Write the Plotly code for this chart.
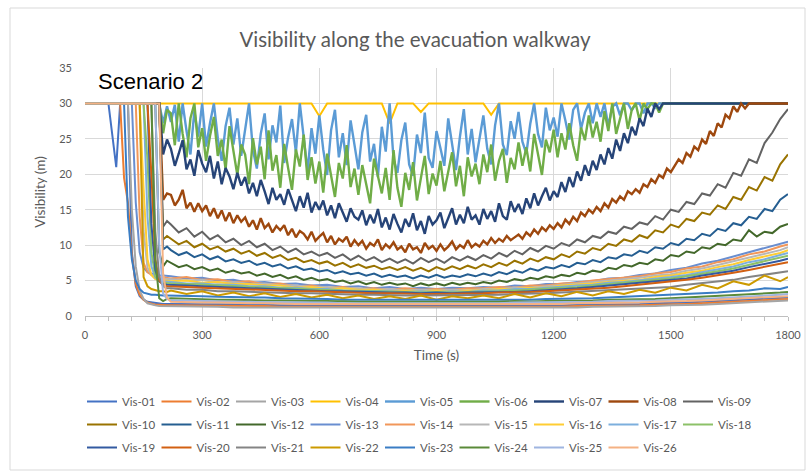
import plotly.graph_objects as go

# ---------------- data ----------------
TIME_HEAD = [0, 60, 80, 90, 100, 110, 120, 130, 140, 150, 160, 170, 180, 190, 200, 210]
TIME_DENSE = TIME_HEAD + [220 + 10 * i for i in range(159)]         # 220..1800 every 10 s
TIME_UPPER = TIME_HEAD + [220 + 20 * i for i in range(80)]          # 220..1800 every 20 s
TIME_LOWER = TIME_HEAD + [220 + 40 * i for i in range(40)] + [1800]  # 220..1780 every 40 s + 1800

SERIES_NAMES = ["Vis-%02d" % i for i in range(1, 27)]
SERIES_COLORS = ["#4472C4", "#ED7D31", "#A5A5A5", "#FFC000", "#5B9BD5", "#70AD47",
                 "#264478", "#9E480E", "#636363", "#997300", "#255E91", "#43682B",
                 "#698ED0", "#F1975A", "#B7B7B7", "#FFCD33", "#7CAFDD", "#8CC168",
                 "#335AA1", "#D26012", "#848484", "#CC9A00", "#3A7DC4", "#5A8A39",
                 "#9FB5E0", "#F4B183"]

HEAD_30 = [30, 30, 30, 30, 30, 30, 30, 30, 30, 30, 30, 30, 30, 30]

# dense-sampled sensors (TIME_DENSE)
VIS_05 = HEAD_30 + [27.2, 29.6,
          27.4, 29.8, 24.6, 30, 26.1, 22.8, 28.9, 25.3, 30,
          23.9, 27.2, 30, 25.1, 21.9, 26.8, 29.4, 24.2, 27.9, 22.6,
          26.3, 30, 23.4, 20.8, 25.7, 28.6, 22.1, 26.9, 24.5, 29.7,
          21.6, 25.2, 27.8, 23.1, 30, 24.7, 20.4, 26.5, 22.9, 28.3,
          23.5, 19.9, 26.2, 29.1, 22.4, 25.8, 21.3, 27.6, 24.1, 20.7,
          25.9, 28.4, 21.8, 24.3, 19.6, 26.7, 23.2, 30, 22.1, 20.2,
          24.8, 27.3, 21.4, 19.8, 25.6, 23.0, 28.7, 22.3, 20.9, 26.1,
          23.7, 21.2, 27.9, 24.4, 20.6, 25.3, 29.2, 22.8, 26.4, 21.7,
          25.1, 28.3, 23.6, 21.4, 26.9, 30, 24.2, 22.7, 27.5, 25.0,
          28.8, 24.6, 22.9, 27.1, 30, 25.7, 23.8, 29.4, 26.2, 28.0,
          25.3, 30, 27.6, 24.9, 29.1, 30, 26.4, 28.7, 30, 27.2,
          30, 28.1, 30, 26.8, 29.5, 30, 28.3, 30, 30, 29.0,
          30, 30, 28.6, 30, 30, 29.4, 30, 30, 30, 30,
          30, 30, 30, 30, 30, 30, 30, 30, 30, 30,
          30, 30, 30, 30, 30, 30, 30, 30, 30, 30,
          30, 30, 30, 30, 30, 30, 30, 30, 30, 30]
VIS_06 = HEAD_30 + [25.8, 29.1,
          28.6, 24.1, 30, 25.7, 22.4, 27.9, 30, 23.8, 26.5,
          21.9, 25.4, 28.1, 22.6, 24.9, 20.7, 26.8, 23.3, 19.9, 24.2,
          22.8, 18.6, 25.1, 21.4, 23.9, 19.3, 26.2, 20.5, 22.7, 18.1,
          24.3, 20.9, 17.8, 23.5, 21.1, 25.6, 19.2, 22.4, 18.7, 21.8,
          17.4, 22.9, 20.1, 16.8, 21.6, 19.4, 24.1, 18.2, 20.8, 17.1,
          21.3, 18.7, 15.9, 22.2, 19.6, 17.3, 20.9, 16.4, 23.4, 18.1,
          15.4, 20.2, 17.8, 21.7, 16.3, 19.5, 22.6, 17.2, 20.1, 18.4,
          21.9, 17.6, 20.4, 23.1, 18.3, 21.2, 16.9, 22.4, 19.7, 21.5,
          18.6, 22.8, 20.3, 24.2, 19.1, 21.9, 23.6, 18.8, 22.3, 20.7,
          24.5, 21.2, 23.8, 20.4, 25.7, 22.6, 19.9, 24.9, 23.1, 26.3,
          22.4, 25.8, 23.5, 27.2, 24.1, 21.9, 26.6, 24.8, 28.3, 25.2,
          27.4, 24.6, 28.9, 26.1, 30, 25.7, 27.8, 30, 26.4, 29.1,
          30, 27.6, 30, 29.2, 30, 30, 28.7, 30, 30, 30,
          30, 30, 30, 30, 30, 30, 30, 30, 30, 30,
          30, 30, 30, 30, 30, 30, 30, 30, 30, 30,
          30, 30, 30, 30, 30, 30, 30, 30, 30, 30]
VIS_07 = HEAD_30 + [22.8, 24.9,
          23.6, 21.2, 22.9, 24.8, 20.7, 22.1, 19.8, 23.4, 21.5,
          20.3, 22.6, 19.4, 21.8, 18.6, 20.9, 19.7, 17.9, 20.2, 18.4,
          19.6, 17.3, 18.8, 16.9, 19.2, 17.6, 15.8, 18.1, 16.4, 17.2,
          15.7, 17.9, 16.2, 14.8, 16.9, 15.3, 17.4, 14.6, 16.1, 15.0,
          16.3, 14.2, 15.6, 13.8, 15.9, 14.5, 13.3, 15.2, 14.0, 13.6,
          14.9, 12.8, 14.3, 13.1, 15.1, 12.5, 13.9, 12.2, 14.4, 13.0,
          11.8, 13.7, 12.6, 14.5, 12.1, 13.4, 11.6, 14.1, 12.9, 13.5,
          14.6, 12.4, 13.8, 15.2, 12.9, 14.3, 13.1, 15.4, 13.6, 14.2,
          12.9, 15.1, 13.7, 14.8, 13.3, 15.9, 14.1, 13.6, 16.2, 14.7,
          15.8, 14.4, 16.6, 15.2, 17.3, 15.6, 16.9, 18.1, 16.3, 17.6,
          16.8, 18.9, 17.5, 19.6, 18.2, 20.4, 19.1, 21.3, 19.8, 21.9,
          20.6, 22.8, 21.4, 23.7, 22.2, 24.9, 23.3, 25.8, 24.4, 26.7,
          25.5, 27.9, 26.8, 29.3, 28.1, 30, 29.2, 30, 30, 30,
          30, 30, 30, 30, 30, 30, 30, 30, 30, 30,
          30, 30, 30, 30, 30, 30, 30, 30, 30, 30,
          30, 30, 30, 30, 30, 30, 30, 30, 30, 30]
VIS_08 = HEAD_30 + [16.4, 17.3,
          17.1, 15.6, 16.4, 17.8, 15.2, 16.0, 14.7, 15.9, 14.8,
          15.6, 14.1, 15.2, 13.8, 14.9, 13.4, 14.6, 13.1, 14.2, 13.3,
          13.9, 12.6, 13.5, 12.2, 13.8, 12.4, 13.0, 11.8, 12.7, 12.1,
          12.8, 11.4, 12.3, 11.1, 12.0, 11.6, 10.8, 11.9, 10.6, 11.2,
          11.7, 10.4, 11.3, 10.1, 10.9, 10.5, 11.2, 9.8, 10.7, 10.0,
          10.6, 9.5, 10.3, 9.9, 10.8, 9.3, 10.1, 9.6, 10.4, 9.4,
          9.8, 9.0, 10.2, 9.4, 9.7, 8.9, 10.3, 9.5, 9.9, 9.2,
          10.1, 9.3, 9.8, 10.5, 9.4, 10.0, 9.6, 10.7, 9.7, 10.2,
          9.8, 10.6, 10.1, 11.0, 10.3, 10.9, 10.5, 11.3, 10.7, 11.1,
          11.5, 10.9, 11.8, 11.3, 12.2, 11.6, 12.5, 12.0, 12.8, 12.3,
          13.1, 12.5, 13.6, 13.0, 14.0, 13.4, 14.6, 14.1, 15.0, 14.5,
          15.4, 14.8, 15.9, 15.3, 16.5, 16.0, 16.9, 16.4, 17.6, 17.2,
          17.9, 17.4, 18.6, 18.2, 19.3, 18.8, 19.9, 19.5, 20.8, 20.3,
          21.2, 22.1, 21.6, 23.0, 22.5, 23.9, 23.4, 24.9, 24.3, 26.1,
          25.4, 27.2, 26.6, 28.4, 27.9, 29.6, 28.8, 30, 29.3, 30,
          30, 30, 30, 30, 30, 30, 30, 30, 30, 30]

# 20 s sampled sensors (TIME_UPPER)
VIS_04 = [30, 30, 30, 30, 30, 30, 30, 30, 30, 30, 30, 30, 30, 30, 30, 30,
          30, 30, 30, 30, 30, 30, 30, 30, 30, 30,
          30, 30, 30, 30, 30, 30, 30, 30, 30, 28.2,
          30, 30, 30, 30, 30, 30, 30, 30, 27.2, 30,
          30, 30, 28.8, 30, 30, 30, 30, 30, 30, 30,
          30, 28.4, 30, 30, 30, 30, 30, 30, 30, 30,
          30, 30, 30, 30, 30, 30, 30, 30, 30, 30,
          30, 30, 30, 30, 30, 30, 30, 30, 30, 30,
          30, 30, 30, 30, 30, 30, 30, 30, 30, 30]
VIS_09 = HEAD_30 + [12.6, 13.4,
          12.9, 11.8, 12.4, 11.2, 11.9, 10.8, 11.4, 10.4, 10.9, 10.0,
          10.6, 9.7, 10.2, 9.3, 9.8, 9.0, 9.5, 8.7, 9.1, 8.5,
          8.9, 8.2, 8.7, 7.9, 8.5, 7.8, 8.3, 7.6, 8.1, 7.5,
          8.0, 7.4, 8.2, 7.6, 8.1, 7.5, 8.3, 7.8, 8.4, 7.9,
          8.6, 8.1, 8.9, 8.4, 9.2, 8.7, 9.6, 9.1, 9.9, 9.5,
          10.3, 9.9, 10.8, 10.4, 11.3, 11.0, 11.9, 11.6, 12.6, 12.3,
          13.2, 12.9, 14.1, 13.6, 15.0, 14.7, 16.1, 15.8, 17.3, 17.0,
          18.6, 18.1, 20.2, 19.8, 22.1, 21.6, 24.4, 25.9, 27.8, 29.2]
VIS_10 = HEAD_30 + [10.8, 11.3,
          10.9, 10.1, 10.6, 9.7, 10.2, 9.4, 9.8, 9.1, 9.5, 8.8,
          9.2, 8.5, 8.9, 8.2, 8.6, 7.9, 8.2, 7.6, 7.9, 7.4,
          7.7, 7.1, 7.5, 6.9, 7.3, 6.8, 7.1, 6.6, 6.9, 6.5,
          6.9, 6.4, 6.8, 6.3, 6.9, 6.5, 7.0, 6.6, 7.1, 6.7,
          7.3, 6.9, 7.5, 7.1, 7.8, 7.4, 8.1, 7.7, 8.3, 8.0,
          8.7, 8.3, 9.1, 8.8, 9.6, 9.3, 10.2, 9.9, 10.8, 10.5,
          11.4, 11.0, 12.1, 11.8, 12.9, 12.5, 13.7, 13.4, 14.6, 14.3,
          15.6, 15.1, 16.8, 16.4, 18.2, 17.7, 19.6, 19.1, 21.4, 22.8]
VIS_11 = HEAD_30 + [9.4, 9.8,
          9.3, 8.6, 9.0, 8.3, 8.7, 8.0, 8.4, 7.7, 8.0, 7.5,
          7.8, 7.2, 7.5, 7.0, 7.3, 6.7, 7.0, 6.5, 6.7, 6.3,
          6.5, 6.0, 6.3, 5.9, 6.1, 5.7, 6.0, 5.5, 5.8, 5.5,
          5.7, 5.3, 5.7, 5.4, 5.8, 5.4, 5.7, 5.5, 5.9, 5.6,
          6.0, 5.7, 6.2, 5.9, 6.4, 6.1, 6.7, 6.4, 6.9, 6.7,
          7.2, 6.9, 7.5, 7.3, 7.9, 7.6, 8.3, 8.1, 8.7, 8.5,
          9.2, 8.9, 9.7, 9.5, 10.3, 10.0, 10.9, 10.7, 11.6, 11.3,
          12.3, 12.0, 13.1, 12.8, 14.0, 13.7, 15.1, 14.8, 16.4, 17.2]
VIS_12 = [30, 30, 30, 30, 30, 30, 30, 30, 30, 30, 30, 30, 30, 9.0, 7.0, 7.8,
          7.5, 6.9, 7.2, 6.6, 6.9, 6.4, 6.7, 6.1, 6.4, 6.0,
          6.2, 5.7, 6.0, 5.5, 5.8, 5.3, 5.6, 5.1, 5.4, 5.0,
          5.2, 4.8, 5.0, 4.6, 4.9, 4.5, 4.8, 4.4, 4.7, 4.4,
          4.6, 4.2, 4.6, 4.3, 4.6, 4.3, 4.7, 4.4, 4.7, 4.5,
          4.8, 4.6, 5.0, 4.8, 5.2, 5.0, 5.4, 5.2, 5.6, 5.4,
          5.8, 5.6, 6.1, 5.9, 6.4, 6.2, 6.8, 6.6, 7.2, 7.0,
          7.5, 7.3, 8.0, 7.8, 8.6, 8.4, 9.1, 8.9, 9.7, 9.5,
          10.2, 10.0, 10.8, 10.6, 12.1, 11.2, 11.9, 11.7, 12.6, 13.0]

# lower (smoke-logged) sensors, sampled on TIME_LOWER
VIS_01 = [30, 30, 21, 30, 30, 30, 9, 4.2, 2.8, 2.3, 2.0, 1.9, 1.8, 1.8, 1.7, 1.7,
          1.7, 1.7, 1.7, 1.6, 1.6, 1.6, 1.6, 1.5, 1.5, 1.5,
          1.5, 1.5, 1.4, 1.4, 1.4, 1.4, 1.4, 1.4, 1.4, 1.4,
          1.4, 1.4, 1.5, 1.5, 1.5, 1.5, 1.6, 1.6, 1.6, 1.7,
          1.7, 1.8, 1.8, 1.9, 2.0, 2.1, 2.2, 2.3, 2.4, 2.5, 2.6]
VIS_02 = [30, 30, 30, 30, 19.5, 16, 8.5, 4.5, 3.0, 2.3, 1.9, 1.7, 1.6, 1.6, 1.5, 1.5,
          1.5, 1.5, 1.5, 1.4, 1.4, 1.4, 1.4, 1.3, 1.3, 1.3,
          1.3, 1.3, 1.2, 1.2, 1.2, 1.2, 1.2, 1.2, 1.2, 1.2,
          1.2, 1.2, 1.3, 1.3, 1.3, 1.3, 1.4, 1.4, 1.4, 1.5,
          1.5, 1.6, 1.6, 1.7, 1.8, 1.9, 2.0, 2.1, 2.2, 2.3, 2.4]
VIS_03 = [30, 30, 30, 30, 30, 30, 15, 7, 3.6, 2.4, 1.8, 1.6, 1.5, 1.4, 1.4, 1.3,
          1.3, 1.3, 1.3, 1.3, 1.2, 1.2, 1.2, 1.2, 1.2, 1.2,
          1.2, 1.1, 1.1, 1.1, 1.1, 1.1, 1.1, 1.1, 1.1, 1.1,
          1.1, 1.1, 1.2, 1.2, 1.2, 1.2, 1.2, 1.3, 1.3, 1.3,
          1.4, 1.4, 1.5, 1.5, 1.6, 1.7, 1.8, 1.9, 2.0, 2.1, 2.2]
VIS_13 = [30, 30, 30, 30, 30, 30, 30, 16, 9, 6.8, 6.2, 6.0, 5.8, 5.7, 5.7, 5.6,
          5.6, 5.3, 5.4, 5.0, 5.1, 4.7, 4.8, 4.5, 4.6, 4.3,
          4.4, 4.1, 4.2, 3.9, 4.1, 3.8, 4.0, 3.8, 4.0, 3.9,
          4.1, 4.0, 4.3, 4.2, 4.5, 4.5, 4.8, 4.9, 5.3, 5.4,
          5.8, 6.0, 6.5, 6.8, 7.4, 7.8, 8.4, 8.9, 9.5, 10.1, 10.5]
VIS_14 = [30, 30, 30, 30, 30, 30, 30, 30, 14, 7.5, 6.2, 5.8, 5.6, 5.5, 5.5, 5.4,
          5.3, 5.5, 5.1, 5.2, 4.8, 4.9, 4.5, 4.6, 4.2, 4.3,
          4.0, 4.1, 3.8, 3.9, 3.7, 3.9, 3.7, 3.8, 3.7, 3.9,
          3.9, 4.1, 4.0, 4.3, 4.3, 4.6, 4.7, 5.0, 5.2, 5.5,
          5.6, 6.0, 6.2, 6.7, 7.0, 7.6, 8.0, 8.7, 9.1, 9.8, 10.1]
VIS_15 = [30, 30, 30, 30, 30, 30, 30, 30, 30, 12, 6.8, 5.8, 5.4, 5.3, 5.3, 5.2,
          5.2, 5.0, 5.1, 4.7, 4.8, 4.5, 4.6, 4.3, 4.3, 4.1,
          4.1, 3.9, 3.9, 3.7, 3.8, 3.6, 3.7, 3.6, 3.7, 3.6,
          3.8, 3.8, 4.0, 4.0, 4.2, 4.3, 4.5, 4.7, 4.9, 5.2,
          5.4, 5.7, 5.9, 6.4, 6.7, 7.2, 7.7, 8.2, 8.8, 9.3, 9.7]
VIS_16 = [30, 30, 30, 30, 30, 30, 30, 30, 30, 18, 8, 5.8, 5.2, 5.1, 5.0, 5.0,
          4.9, 5.0, 4.7, 4.8, 4.5, 4.5, 4.3, 4.3, 4.0, 4.1,
          3.8, 3.9, 3.7, 3.7, 3.5, 3.6, 3.5, 3.6, 3.5, 3.6,
          3.6, 3.8, 3.8, 4.0, 4.0, 4.3, 4.4, 4.6, 4.8, 5.0,
          5.1, 5.5, 5.7, 6.1, 6.4, 6.9, 7.3, 7.9, 8.4, 8.9, 9.3]
VIS_17 = [30, 30, 30, 30, 30, 30, 30, 30, 30, 30, 14, 7, 5.4, 5.0, 4.9, 4.8,
          4.8, 4.6, 4.6, 4.4, 4.4, 4.2, 4.2, 4.0, 4.0, 3.8,
          3.8, 3.6, 3.6, 3.5, 3.5, 3.4, 3.5, 3.4, 3.5, 3.4,
          3.6, 3.6, 3.8, 3.8, 4.0, 4.1, 4.3, 4.4, 4.7, 4.8,
          5.0, 5.2, 5.5, 5.8, 6.2, 6.6, 7.0, 7.6, 8.0, 8.6, 8.9]
VIS_18 = [30, 30, 30, 30, 30, 30, 30, 30, 30, 30, 22, 9, 5.6, 4.9, 4.7, 4.6,
          4.6, 4.5, 4.4, 4.3, 4.2, 4.1, 4.0, 3.9, 3.8, 3.8,
          3.7, 3.6, 3.5, 3.5, 3.4, 3.4, 3.3, 3.4, 3.3, 3.4,
          3.4, 3.5, 3.6, 3.7, 3.8, 4.0, 4.1, 4.3, 4.5, 4.7,
          4.8, 5.0, 5.3, 5.6, 5.9, 6.3, 6.7, 7.2, 7.7, 8.2, 8.5]
VIS_19 = [30, 30, 30, 30, 30, 30, 30, 30, 30, 30, 30, 13, 6.5, 4.9, 4.5, 4.4,
          4.4, 4.3, 4.2, 4.1, 4.0, 3.9, 3.8, 3.7, 3.7, 3.6,
          3.5, 3.5, 3.4, 3.4, 3.3, 3.3, 3.2, 3.3, 3.2, 3.3,
          3.3, 3.4, 3.4, 3.5, 3.6, 3.8, 3.9, 4.1, 4.3, 4.4,
          4.6, 4.8, 5.1, 5.3, 5.7, 6.0, 6.4, 6.9, 7.3, 7.8, 8.1]
VIS_20 = [30, 30, 30, 30, 30, 30, 30, 30, 30, 30, 30, 20, 8, 5.0, 4.4, 4.2,
          4.2, 4.1, 4.0, 3.9, 3.8, 3.7, 3.7, 3.6, 3.5, 3.5,
          3.4, 3.3, 3.3, 3.2, 3.2, 3.1, 3.1, 3.1, 3.1, 3.2,
          3.2, 3.3, 3.3, 3.4, 3.5, 3.6, 3.7, 3.9, 4.0, 4.2,
          4.4, 4.6, 4.8, 5.1, 5.4, 5.7, 6.1, 6.5, 6.9, 7.3, 7.6]
VIS_21 = [30, 30, 30, 30, 30, 30, 30, 30, 30, 30, 30, 30, 12, 5.5, 4.2, 3.9,
          3.9, 3.7, 3.7, 3.5, 3.5, 3.4, 3.4, 3.3, 3.2, 3.2,
          3.1, 3.1, 3.0, 3.0, 2.9, 2.9, 2.9, 2.9, 2.9, 2.9,
          3.0, 3.0, 3.1, 3.1, 3.2, 3.3, 3.4, 3.5, 3.6, 3.7,
          3.8, 4.0, 4.1, 4.4, 4.6, 4.9, 5.1, 5.5, 5.8, 6.1, 6.3]
VIS_22 = [30, 30, 30, 30, 30, 30, 30, 30, 30, 5.5, 4.2, 3.8, 3.6, 3.5, 3.5, 3.4,
          3.6, 3.1, 3.5, 2.9, 3.3, 2.8, 3.2, 2.7, 3.1, 2.6,
          3.0, 2.5, 2.9, 2.4, 2.8, 2.4, 2.9, 2.3, 2.8, 2.5,
          2.9, 2.5, 3.1, 2.6, 3.2, 2.8, 3.4, 2.9, 3.5, 3.1,
          3.7, 3.3, 4.0, 3.6, 4.4, 3.9, 4.9, 4.4, 5.7, 4.9, 5.5]
VIS_23 = [30, 30, 30, 30, 30, 14, 8, 5, 3.8, 3.3, 3.1, 3.0, 3.0, 2.9, 2.9, 2.9,
          2.9, 2.8, 2.8, 2.7, 2.7, 2.6, 2.6, 2.5, 2.5, 2.4,
          2.4, 2.3, 2.3, 2.3, 2.2, 2.2, 2.2, 2.2, 2.2, 2.2,
          2.3, 2.2, 2.3, 2.3, 2.4, 2.4, 2.5, 2.5, 2.6, 2.7,
          2.8, 2.8, 3.0, 3.0, 3.2, 3.3, 3.5, 3.6, 3.9, 3.8, 4.1]
VIS_24 = [30, 30, 30, 30, 30, 30, 30, 30, 30, 30, 30, 30, 8, 2.5, 2.1, 2.4,
          2.5, 2.4, 2.4, 2.3, 2.3, 2.2, 2.2, 2.2, 2.1, 2.1,
          2.1, 2.0, 2.0, 2.0, 2.0, 1.9, 2.0, 1.9, 2.0, 2.0,
          2.0, 2.0, 2.1, 2.0, 2.1, 2.1, 2.2, 2.2, 2.3, 2.3,
          2.4, 2.4, 2.5, 2.6, 2.7, 2.8, 2.9, 3.0, 3.2, 3.3, 3.4]
VIS_25 = [30, 30, 30, 30, 30, 30, 30, 30, 30, 30, 30, 30, 30, 10, 3.2, 2.4,
          2.2, 2.2, 2.1, 2.1, 2.0, 2.0, 2.0, 1.9, 1.9, 1.9,
          1.9, 1.8, 1.8, 1.8, 1.8, 1.8, 1.7, 1.8, 1.8, 1.8,
          1.8, 1.8, 1.9, 1.9, 1.9, 1.9, 2.0, 2.0, 2.1, 2.1,
          2.1, 2.2, 2.3, 2.3, 2.4, 2.5, 2.6, 2.7, 2.9, 3.0, 3.1]
VIS_26 = [30, 30, 30, 30, 30, 30, 30, 30, 30, 30, 30, 30, 30, 30, 6, 2.6,
          2.0, 1.9, 1.9, 1.9, 1.8, 1.8, 1.8, 1.7, 1.7, 1.7,
          1.7, 1.7, 1.6, 1.6, 1.6, 1.6, 1.6, 1.6, 1.6, 1.6,
          1.6, 1.6, 1.7, 1.7, 1.7, 1.7, 1.8, 1.8, 1.8, 1.9,
          1.9, 2.0, 2.0, 2.1, 2.2, 2.3, 2.4, 2.5, 2.6, 2.7, 2.8]

SERIES_VALUES = [VIS_01, VIS_02, VIS_03, VIS_04, VIS_05, VIS_06, VIS_07, VIS_08, VIS_09,
                 VIS_10, VIS_11, VIS_12, VIS_13, VIS_14, VIS_15, VIS_16, VIS_17, VIS_18,
                 VIS_19, VIS_20, VIS_21, VIS_22, VIS_23, VIS_24, VIS_25, VIS_26]
DENSE = {"Vis-05", "Vis-06", "Vis-07", "Vis-08"}
UPPER = {"Vis-04", "Vis-09", "Vis-10", "Vis-11", "Vis-12"}

X_TICKS = [0, 300, 600, 900, 1200, 1500, 1800]
Y_TICKS = [0, 5, 10, 15, 20, 25, 30, 35]

# ---------------- figure ----------------
W, H = 806, 472
ML, MR, MT, MB = 85, 18, 68, 156
PW, PH = W - ML - MR, H - MT - MB

def px_x(p):
    return (p - ML) / PW

def px_y(p):
    return (H - MB - p) / PH

FONT = "Lato, 'Open Sans', sans-serif"
GREY_TXT = "#595959"
LEGEND_KEYS = ["legend", "legend2", "legend3"]
LEGEND_TOPS = [387, 410, 433]

fig = go.Figure()
for i, (name, color, vals) in enumerate(zip(SERIES_NAMES, SERIES_COLORS, SERIES_VALUES)):
    if name in DENSE:
        t, lw = TIME_DENSE, 2.4
    elif name in UPPER:
        t, lw = TIME_UPPER, 2
    else:
        t, lw = TIME_LOWER, 2
    fig.add_trace(go.Scatter(x=t, y=vals, mode="lines", name=name,
                             legend=LEGEND_KEYS[i // 9],
                             line=dict(color=color, width=lw)))

legend_common = dict(orientation="h", x=px_x(82), xanchor="left", yanchor="top",
                     entrywidth=29.5, entrywidthmode="pixels", itemwidth=30,
                     font=dict(size=11.5, color=GREY_TXT, family=FONT),
                     bgcolor="rgba(0,0,0,0)", traceorder="normal")

fig.update_layout(
    width=W, height=H,
    margin=dict(l=ML, r=MR, t=MT, b=MB, autoexpand=False),
    paper_bgcolor="white", plot_bgcolor="white",
    font=dict(family=FONT, color=GREY_TXT, size=11),
    title=dict(text="Visibility along the evacuation walkway", x=415 / W, xanchor="center",
               y=1 - 40 / H, yanchor="middle", yref="container",
               font=dict(size=20.5, color=GREY_TXT, family=FONT)),
    showlegend=True,
    legend=dict(legend_common, y=px_y(LEGEND_TOPS[0])),
    legend2=dict(legend_common, y=px_y(LEGEND_TOPS[1])),
    legend3=dict(legend_common, y=px_y(LEGEND_TOPS[2])),
    xaxis=dict(range=[0, 1800], tickvals=X_TICKS, showgrid=True, gridcolor="#D9D9D9",
               zeroline=False, showline=True, linecolor="#BFBFBF", linewidth=1,
               ticks="", ticklabelstandoff=9,
               minor=dict(dtick=60, tick0=0, ticks="outside", ticklen=4, tickcolor="#BFBFBF", showgrid=False),
               tickfont=dict(size=11, color=GREY_TXT),
               title=dict(text="Time (s)", font=dict(size=13.5, color=GREY_TXT), standoff=10)),
    yaxis=dict(range=[0, 35], tickvals=Y_TICKS, showgrid=True, gridcolor="#D9D9D9",
               zeroline=False, showline=False, ticks="", ticklabelstandoff=12,
               tickfont=dict(size=11, color=GREY_TXT),
               title=dict(text="Visibility (m)", font=dict(size=13.5, color=GREY_TXT), standoff=10)),
)

fig.add_annotation(text="Scenario 2", xref="paper", yref="paper", x=px_x(96), y=px_y(82),
                   xanchor="left", yanchor="middle", showarrow=False,
                   font=dict(family="Liberation Sans, Arial, sans-serif", size=22, color="black"))

fig.add_shape(type="rect", xref="paper", yref="paper",
              x0=px_x(10), x1=px_x(805), y0=px_y(470), y1=px_y(8),
              line=dict(color="#D9D9D9", width=1), fillcolor="rgba(0,0,0,0)", layer="below")

fig.write_html("out.html")
